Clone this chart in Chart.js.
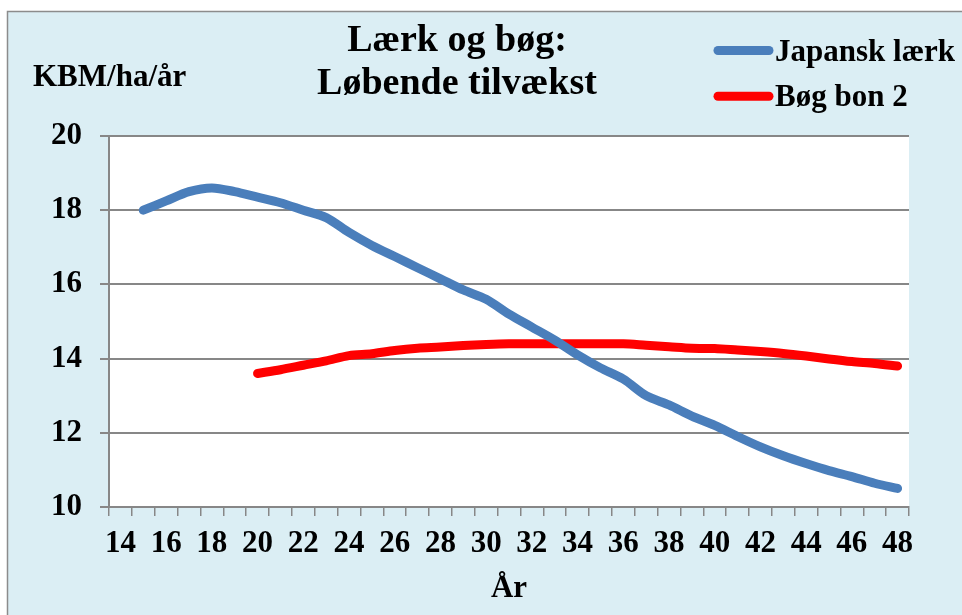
<!DOCTYPE html>
<html>
<head>
<meta charset="utf-8">
<script src="https://cdn.jsdelivr.net/npm/chart.js@4"></script>
<style>
  html, body { margin: 0; padding: 0; background: #ffffff; }
  #wrap { width: 962px; height: 615px; }
</style>
</head>
<body>
<div id="wrap"><canvas id="c" width="962" height="615"></canvas></div>
<script>
// ---- data ----
const years = [14,15,16,17,18,19,20,21,22,23,24,25,26,27,28,29,30,31,32,33,34,35,36,37,38,39,40,41,42,43,44,45,46,47,48];
const japanskLaerk = [null,
  18.0, 18.25, 18.5, 18.6, 18.5, 18.35, 18.2, 18.0, 17.8, 17.4,
  17.05, 16.75, 16.45, 16.15, 15.85, 15.6, 15.2, 14.85, 14.5, 14.1,
  13.75, 13.45, 13.0, 12.75, 12.45, 12.2, 11.9, 11.62, 11.38, 11.17,
  10.98, 10.82, 10.64, 10.5];
const bogBon2 = [null, null, null, null, null, null,
  13.6, 13.7, 13.82, 13.94, 14.08, 14.13, 14.22, 14.28, 14.31, 14.35,
  14.38, 14.4, 14.4, 14.4, 14.4, 14.4, 14.4, 14.36, 14.32, 14.28,
  14.27, 14.23, 14.19, 14.14, 14.07, 13.99, 13.92, 13.87, 13.8];
const xTickLabels = ['14','16','18','20','22','24','26','28','30','32','34','36','38','40','42','44','46','48'];
const yTicks = [10, 12, 14, 16, 18, 20];
const seriesNames = ['Japansk lærk', 'Bøg bon 2'];
const titleLines = ['Lærk og bøg:', 'Løbende tilvækst'];
const yUnit = 'KBM/ha/år';
const xTitle = 'År';

const BG = '#DBEEF4';
const GRID = '#878787';
const SERIF = '"Liberation Serif", "Times New Roman", serif';

const bgPlugin = {
  id: 'bgPlugin',
  beforeDraw(chart) {
    const ctx = chart.ctx, a = chart.chartArea;
    ctx.save();
    ctx.fillStyle = '#ffffff';
    ctx.fillRect(0, 0, chart.width, chart.height);
    ctx.fillStyle = BG;
    ctx.fillRect(7, 11, chart.width - 7, chart.height - 11);
    ctx.strokeStyle = '#8c8c8c';
    ctx.lineWidth = 1.5;
    ctx.beginPath();
    ctx.moveTo(7.5, chart.height); ctx.lineTo(7.5, 11.5); ctx.lineTo(chart.width, 11.5);
    ctx.stroke();
    ctx.fillStyle = '#ffffff';
    ctx.fillRect(a.left, a.top, a.right - a.left, a.bottom - a.top);
    ctx.restore();
  }
};

const textPlugin = {
  id: 'textPlugin',
  afterDraw(chart) {
    const ctx = chart.ctx;
    ctx.save();
    ctx.fillStyle = '#000';
    ctx.textBaseline = 'alphabetic';
    // title
    ctx.font = 'bold 38px ' + SERIF;
    ctx.textAlign = 'center';
    ctx.fillText(titleLines[0], 457, 51);
    ctx.fillText(titleLines[1], 457, 94);
    // y unit
    ctx.font = 'bold 31px ' + SERIF;
    ctx.textAlign = 'left';
    ctx.fillText(yUnit, 33, 86);
    // legend
    const rows = [50.5, 96.3];
    chart.data.datasets.forEach((ds, i) => {
      const y = rows[i];
      ctx.strokeStyle = ds.borderColor;
      ctx.lineWidth = 9;
      ctx.lineCap = 'round';
      ctx.beginPath();
      ctx.moveTo(718, y); ctx.lineTo(769, y);
      ctx.stroke();
      ctx.fillStyle = '#000';
      ctx.font = 'bold 31px ' + SERIF;
      ctx.textAlign = 'left';
      ctx.fillText(ds.label, 775, y + 10);
    });
    ctx.restore();
  }
};

new Chart(document.getElementById('c'), {
  type: 'line',
  data: {
    labels: years,
    datasets: [
      {
        label: seriesNames[0],
        data: japanskLaerk,
        borderColor: '#4A7EBB',
        borderWidth: 9,
        borderCapStyle: 'round',
        borderJoinStyle: 'round',
        pointRadius: 0,
        tension: 0.3,
        spanGaps: false
      },
      {
        label: seriesNames[1],
        data: bogBon2,
        borderColor: '#FF0000',
        borderWidth: 9,
        borderCapStyle: 'round',
        borderJoinStyle: 'round',
        pointRadius: 0,
        tension: 0.3,
        spanGaps: false
      }
    ]
  },
  options: {
    responsive: false,
    animation: false,
    devicePixelRatio: 1,
    layout: { padding: { left: 0, top: 136, right: 53, bottom: 0 } },
    plugins: {
      legend: { display: false },
      title: { display: false },
      tooltip: { enabled: false }
    },
    scales: {
      x: {
        type: 'category',
        offset: true,
        grid: {
          offset: true,
          drawOnChartArea: false,
          drawTicks: true,
          tickLength: 9,
          color: GRID,
          lineWidth: 1.5
        },
        border: { display: true, color: GRID, width: 2 },
        ticks: {
          autoSkip: false,
          maxRotation: 0,
          minRotation: 0,
          padding: 9,
          color: '#000',
          font: { family: SERIF, size: 31, weight: 'bold' },
          callback: function (value) {
            const lab = String(this.getLabelForValue(value));
            return xTickLabels.includes(lab) ? lab : '';
          }
        },
        title: {
          display: true,
          text: xTitle,
          color: '#000',
          font: { family: SERIF, size: 31, weight: 'bold' },
          padding: { top: 0, bottom: 7 }
        },
        afterFit(scale) { scale.height = 108; }
      },
      y: {
        min: 10,
        max: 20,
        afterBuildTicks(scale) { scale.ticks = yTicks.map(v => ({ value: v })); },
        grid: {
          color: GRID,
          lineWidth: 2,
          tickLength: 9,
          drawTicks: true
        },
        border: { display: true, color: GRID, width: 2 },
        ticks: {
          padding: 18,
          color: '#000',
          font: { family: SERIF, size: 31, weight: 'bold' }
        },
        afterFit(scale) { scale.width = 109; }
      }
    }
  },
  plugins: [bgPlugin, textPlugin]
});
</script>
</body>
</html>
